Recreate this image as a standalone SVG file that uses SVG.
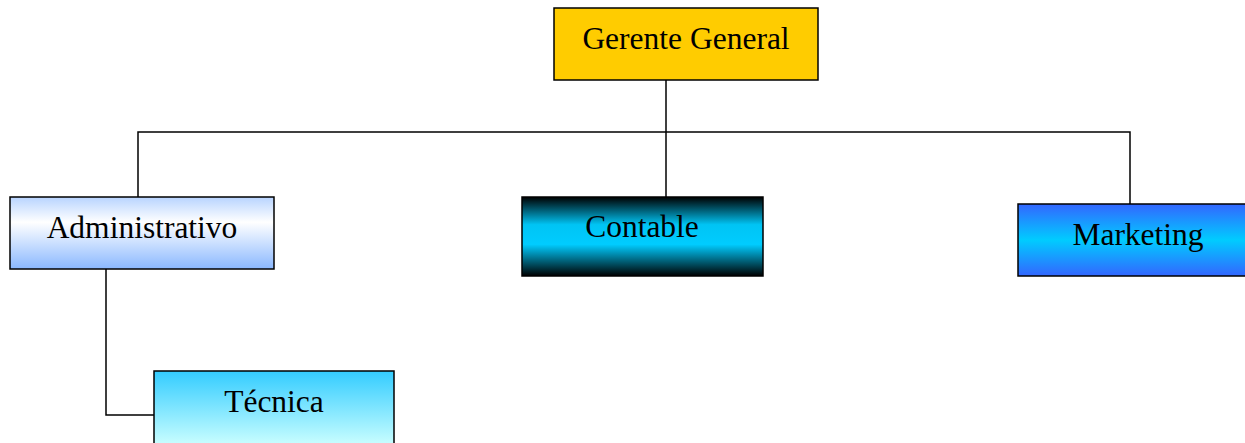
<svg xmlns="http://www.w3.org/2000/svg" width="1245" height="443" viewBox="0 0 1245 443">
<style>
.box{stroke:#000;stroke-width:1.5}
.lbl{font-family:"Liberation Serif","Times New Roman",serif;font-size:31.5px;fill:#000;text-anchor:middle}
.conn{fill:none;stroke:#000;stroke-width:1.5}
</style>
<defs>
<linearGradient id="gAdm" x1="0" y1="0" x2="0" y2="1">
<stop offset="0" stop-color="#b8d4ff"/>
<stop offset="0.35" stop-color="#ffffff"/>
<stop offset="1" stop-color="#8ab8ff"/>
</linearGradient>
<linearGradient id="gCon" x1="0" y1="0" x2="0" y2="1">
<stop offset="0" stop-color="#000000"/>
<stop offset="0.35" stop-color="#00c4f4"/>
<stop offset="0.6" stop-color="#00ccff"/>
<stop offset="1" stop-color="#000000"/>
</linearGradient>
<linearGradient id="gMkt" x1="0" y1="0" x2="0" y2="1">
<stop offset="0" stop-color="#3366ff"/>
<stop offset="0.5" stop-color="#00ccff"/>
<stop offset="1" stop-color="#3366ff"/>
</linearGradient>
<linearGradient id="gTec" x1="0" y1="0" x2="0" y2="1">
<stop offset="0" stop-color="#33ccff"/>
<stop offset="1" stop-color="#ccffff"/>
</linearGradient>
</defs>
<g id="connectors">
<polyline class="conn" points="666,73 666,197"/>
<polyline class="conn" points="138,197 138,132 1130,132 1130,204"/>
<polyline class="conn" points="106,262 106,415 154,415"/>
</g>
<g id="gerente">
<rect class="box" x="554" y="8" width="264" height="72" fill="#ffcc00"/>
<text class="lbl" x="686" y="49">Gerente General</text>
</g>
<g id="administrativo">
<rect class="box" x="10" y="197" width="264" height="72" fill="url(#gAdm)"/>
<text class="lbl" x="142" y="238">Administrativo</text>
</g>
<g id="contable">
<rect class="box" x="522" y="197" width="241" height="79" fill="url(#gCon)"/>
<text class="lbl" x="642" y="237">Contable</text>
</g>
<g id="marketing">
<rect class="box" x="1018" y="204" width="240" height="72" fill="url(#gMkt)"/>
<text class="lbl" x="1138" y="245">Marketing</text>
</g>
<g id="tecnica">
<rect class="box" x="154" y="371" width="240" height="75" fill="url(#gTec)"/>
<text class="lbl" x="274" y="412">Técnica</text>
</g>
</svg>
